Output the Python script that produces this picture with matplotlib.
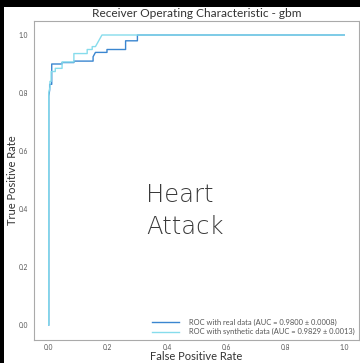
import matplotlib
matplotlib.use("Agg")
import matplotlib.pyplot as plt
from matplotlib.patches import Rectangle

# Data
real_fpr = [0.0, 0.0, 0.003, 0.003, 0.010, 0.010, 0.045, 0.045, 0.085, 0.085, 0.150, 0.150, 0.158, 0.197, 0.197, 0.260, 0.260, 0.300, 0.300, 1.0]
real_tpr = [0.0, 0.79, 0.81, 0.83, 0.83, 0.900, 0.900, 0.905, 0.905, 0.910, 0.910, 0.925, 0.940, 0.940, 0.950, 0.950, 0.980, 0.980, 1.0, 1.0]
syn_fpr = [0.0, 0.0, 0.004, 0.004, 0.008, 0.008, 0.022, 0.022, 0.045, 0.045, 0.085, 0.085, 0.130, 0.130, 0.147, 0.147, 0.158, 0.180, 1.0]
syn_tpr = [0.0, 0.80, 0.82, 0.84, 0.84, 0.874, 0.874, 0.885, 0.885, 0.907, 0.907, 0.936, 0.936, 0.950, 0.950, 0.960, 0.960, 1.0, 1.0]
real_label = "ROC with real data (AUC = 0.9800 ± 0.0008)"
syn_label = "ROC with synthetic data (AUC = 0.9829 ± 0.0013)"
title = "Receiver Operating Characteristic - gbm"
ticks = [0.0, 0.2, 0.4, 0.6, 0.8, 1.0]

W, H = 360, 363
fig = plt.figure(figsize=(W / 100, H / 100), dpi=100, facecolor="black")
bg = Rectangle((4 / W, 0), 1, (H - 7) / H, transform=fig.transFigure,
               facecolor="white", edgecolor="none", zorder=-10)
fig.patches.append(bg)

ax = fig.add_axes([34 / W, (H - 339.5) / H, (359 - 34) / W, (339.5 - 20.5) / H])
ax.set_zorder(1)
ax.set_facecolor("white")
ax.plot(real_fpr, real_tpr, color="#3a86d0", lw=1.0, label=real_label)
ax.plot(syn_fpr, syn_tpr, color="#86dcec", lw=1.0, label=syn_label)
ax.set_xlim(-0.05, 1.05)
ax.set_ylim(-0.05, 1.05)
ax.set_xticks(ticks)
ax.set_yticks(ticks)
ax.set_xticklabels([f"{t:.1f}" for t in ticks])
ax.set_yticklabels([f"{t:.1f}" for t in ticks])
ax.tick_params(length=0, labelsize=4.8, labelcolor="#555555")
ax.tick_params(axis="x", pad=3.2)
ax.tick_params(axis="y", pad=4.5)
for lab in ax.get_xticklabels() + ax.get_yticklabels():
    lab.set_family("Lato")
for s in ax.spines.values():
    s.set_color("#aaaaaa")
    s.set_linewidth(0.8)
ax.set_title(title, fontsize=8.6, family="Lato", color="#333333", pad=2.5)
ax.set_xlabel("False Positive Rate", fontsize=8.0, family="Lato", color="#333333", labelpad=0)
ax.set_ylabel("True Positive Rate", fontsize=8.0, family="Lato", color="#333333", labelpad=0.5)
leg = ax.legend(loc="lower right", frameon=False, prop={"family": "Lato", "size": 5.4},
                handlelength=3.6, handletextpad=1.3, labelspacing=0.35,
                borderaxespad=0.25, borderpad=0.3)
for t in leg.get_texts():
    t.set_color("#555555")

ax.text(146 / W, 1 - 202 / H, "Heart", fontsize=17.5, family="DejaVu Sans", fontweight="light",
        color="#3a3a3a", ha="left", va="baseline", transform=fig.transFigure, zorder=5)
ax.text(146 / W, 1 - 234 / H, "Attack", fontsize=17.5, family="DejaVu Sans", fontweight="light",
        color="#3a3a3a", ha="left", va="baseline", transform=fig.transFigure, zorder=5)

fig.savefig("out.png", dpi=100, facecolor="black")
